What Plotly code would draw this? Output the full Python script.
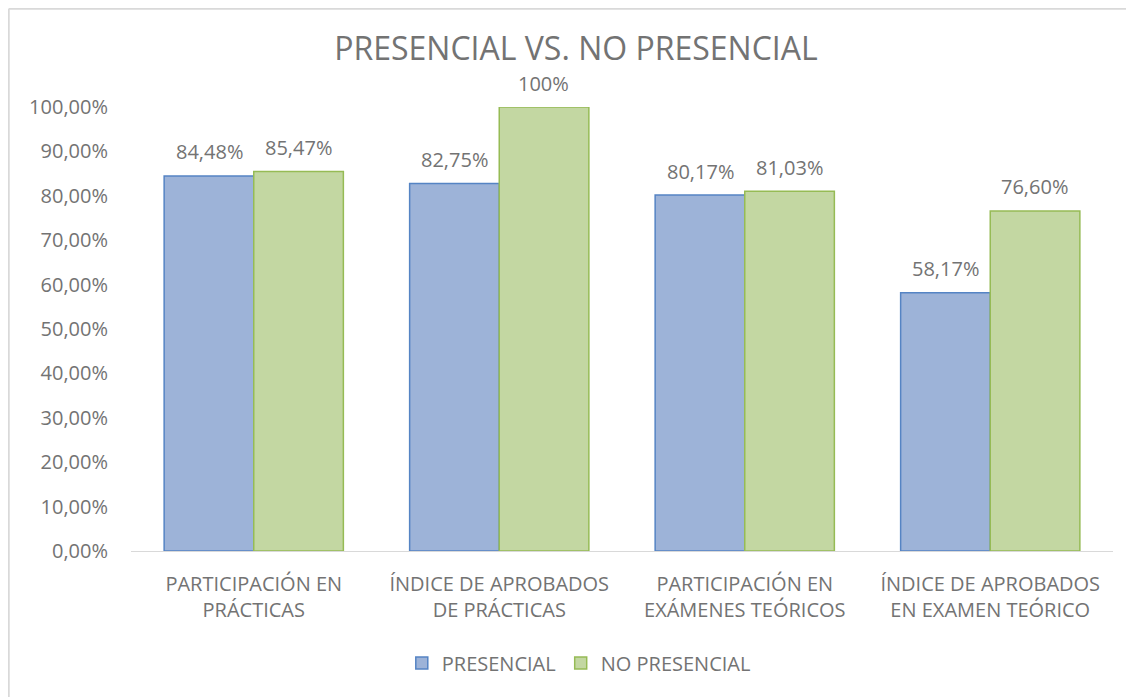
import plotly.graph_objects as go

categories = ["PARTICIPACIÓN EN<br>PRÁCTICAS", "ÍNDICE DE APROBADOS<br>DE PRÁCTICAS",
              "PARTICIPACIÓN EN<br>EXÁMENES TEÓRICOS", "ÍNDICE DE APROBADOS<br>EN EXAMEN TEÓRICO"]
presencial = [84.48, 82.75, 80.17, 58.17]
no_presencial = [85.47, 100.0, 81.03, 76.60]
tick_vals = [i / 10 for i in range(11)]

def lab(v):
    if v == 100:
        return "100%"
    return f"{v:.2f}%".replace(".", ",")

FONT = "Open Sans, Lato, sans-serif"
GRAY = "#737373"
BAR_HALF_PX = 44.5

fig = go.Figure()
fig.add_trace(go.Bar(
    x=categories, y=[v / 100 for v in presencial], name="PRESENCIAL",
    marker=dict(color="#9db3d8", line=dict(color="#5584c4", width=1.5)),
))
fig.add_trace(go.Bar(
    x=categories, y=[v / 100 for v in no_presencial], name="NO PRESENCIAL",
    marker=dict(color="#c3d7a2", line=dict(color="#96bb55", width=1.5)),
))

annotations = []
for series, shift in ((presencial, -BAR_HALF_PX), (no_presencial, BAR_HALF_PX)):
    for cat, v in zip(categories, series):
        annotations.append(dict(
            x=cat, y=v / 100, xref="x", yref="y", text=lab(v), showarrow=False,
            xshift=shift, yshift=24, yanchor="middle", xanchor="center",
            font=dict(size=20, color=GRAY, family=FONT),
        ))

fig.update_layout(
    width=1126, height=689,
    margin=dict(l=123, r=21, t=99, b=146),
    paper_bgcolor="white", plot_bgcolor="white",
    separators=",.",
    barmode="group", bargap=0.27, bargroupgap=0,
    font=dict(family=FONT, color=GRAY, size=20),
    title=dict(text="PRESENCIAL VS. NO PRESENCIAL", x=0.5044, xanchor="center",
               y=0.941, yanchor="middle", font=dict(size=32, color=GRAY, family=FONT)),
    xaxis=dict(showline=True, linecolor="#d9d9d9", linewidth=1, ticks="",
               tickfont=dict(size=20, color=GRAY), showgrid=False, ticklabelstandoff=15),
    yaxis=dict(range=[0, 1], tickvals=tick_vals, tickformat=".2%", showgrid=False,
               zeroline=False, showline=False, tickfont=dict(size=20, color=GRAY),
               ticks="outside", ticklen=18, tickcolor="white"),
    legend=dict(orientation="h", x=0.456, xanchor="center", y=-0.252, yanchor="middle",
                font=dict(size=20, color=GRAY), traceorder="normal", itemwidth=30),
    showlegend=True,
    annotations=annotations,
    shapes=[
        dict(type="line", xref="paper", yref="paper", x0=-0.1245, x1=1.05,
             y0=1.2213, y1=1.2213, line=dict(color="#d9d9d9", width=2), layer="below"),
        dict(type="line", xref="paper", yref="paper", x0=-0.1245, x1=-0.1245,
             y0=-0.4, y1=1.2213, line=dict(color="#d9d9d9", width=2), layer="below"),
    ],
)

fig.write_html("out.html")
